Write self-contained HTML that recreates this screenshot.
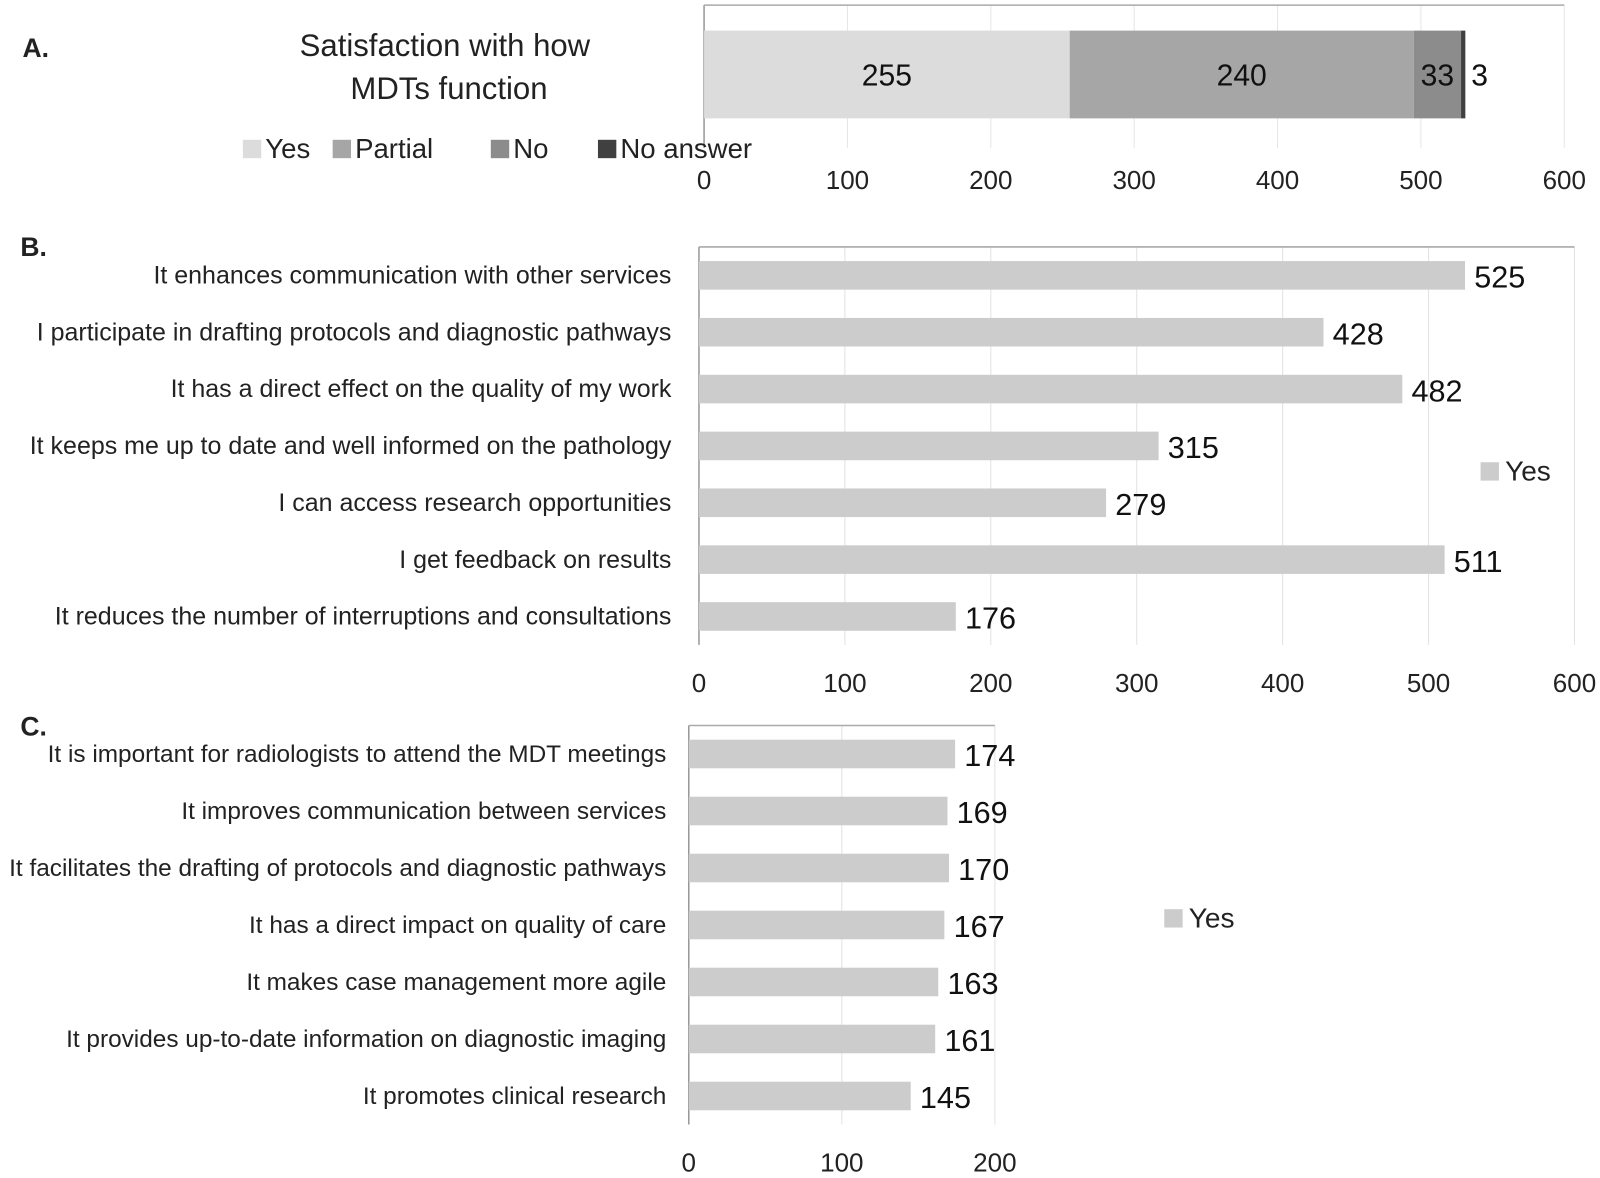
<!DOCTYPE html>
<html><head><meta charset="utf-8">
<style>
html,body{margin:0;padding:0;background:#fff;}
svg{display:block;font-family:"Liberation Sans",Arial,sans-serif;}
</style></head>
<body>
<svg id="c" width="1600" height="1178" viewBox="0 0 1600 1178" xmlns="http://www.w3.org/2000/svg">
<g transform="scale(1.0204)">
<text x="22" y="56" font-size="26" font-weight="bold" fill="#222">A.</text>
<text x="436" y="55" font-size="30.5" text-anchor="middle" fill="#222">Satisfaction with how</text>
<text x="440" y="97" font-size="30.5" text-anchor="middle" fill="#222">MDTs function</text>
<text x="20" y="251" font-size="26" font-weight="bold" fill="#222">B.</text>
<text x="20" y="721" font-size="26" font-weight="bold" fill="#222">C.</text>
<g id="ga"></g><g id="gb"></g><g id="gc"></g>
</g>
</svg>
<script>
// Panel A data
const aSeries = ["Yes","Partial","No","No answer"];
const aValues = [255,240,33,3];
const aColors = ["#dcdcdc","#a6a6a6","#8c8c8c","#404040"];
const aTicks = [0,100,200,300,400,500,600];
// Panel B data
const bCategories = ["It enhances communication with other services","I participate in drafting protocols and diagnostic pathways","It has a direct effect on the quality of my work","It keeps me up to date and well informed on the pathology","I can access research opportunities","I get feedback on results","It reduces the number of interruptions and consultations"];
const bValues = [525,428,482,315,279,511,176];
const bTicks = [0,100,200,300,400,500,600];
// Panel C data
const cCategories = ["It is important for radiologists to attend the MDT meetings","It improves communication between services","It facilitates the drafting of protocols and diagnostic pathways","It has a direct impact on quality of care","It makes case management more agile","It provides up-to-date information on diagnostic imaging","It promotes clinical research"];
const cValues = [174,169,170,167,163,161,145];
const cTicks = [0,100,200];

const NS="http://www.w3.org/2000/svg";
function mk(parent,tag,attrs,text){const e=document.createElementNS(NS,tag);for(const k in attrs)e.setAttribute(k,attrs[k]);if(text!==undefined)e.textContent=text;parent.appendChild(e);return e;}

// Panel A
(function(){
  const g=document.getElementById('ga');
  const x0=690,x1=1533,max=600,top=5,bot=145;
  const sx=v=>x0+(x1-x0)*v/max;
  aTicks.forEach(t=>{
    const l=mk(g,'line',{x1:sx(t),x2:sx(t),y1:top,y2:bot,stroke:t===0?'#999':'#e6e6e6','stroke-width':t===0?1.5:1});
    
    
    const tx=mk(g,'text',{x:sx(t),y:185,'font-size':25.5,'text-anchor':'middle',fill:'#222'},String(t));
    
    
  });
  const fl=mk(g,'line',{x1:x0,x2:x1,y1:top,y2:top,stroke:'#aaa','stroke-width':1.5});
  
  
  let acc=0;
  aValues.forEach((v,i)=>{
    const r=mk(g,'rect',{x:sx(acc),y:30,width:sx(acc+v)-sx(acc),height:86,fill:aColors[i]});
    
    
    const cx=(v<10)?sx(acc+v)+14:(sx(acc)+sx(acc+v))/2;
    const t=mk(g,'text',{x:cx,y:84,'font-size':29.5,'text-anchor':'middle',fill:'#111'},String(v));
    
    
    acc+=v;
  });
  const legX=[238,326,481,586];
  aSeries.forEach((s,i)=>{
    const r=mk(g,'rect',{x:legX[i],y:137,width:18,height:18,fill:aColors[i]});
    
    
    const t=mk(g,'text',{x:legX[i]+22,y:155,'font-size':27,fill:'#222'},s);
    
    
  });
})();

function hbar(gid,cats,vals,ticks,o){
  const g=document.getElementById(gid);
  const sx=v=>o.x0+(o.x1-o.x0)*v/o.max;
  const step=(o.bot-o.top)/cats.length;
  ticks.forEach(t=>{
    const l=mk(g,'line',{x1:sx(t),x2:sx(t),y1:o.top,y2:o.bot,stroke:t===0?'#999':'#e2e2e2','stroke-width':t===0?1.5:1});
    
    
    const tx=mk(g,'text',{x:sx(t),y:o.tickY,'font-size':25.5,'text-anchor':'middle',fill:'#222'},String(t));
    
    
  });
  const fl=mk(g,'line',{x1:o.x0,x2:o.x1,y1:o.top,y2:o.top,stroke:'#aaa','stroke-width':1.5});
  
  
  cats.forEach((c,i)=>{
    const cy=o.top+step*(i+0.5);
    const r=mk(g,'rect',{x:sx(0),y:cy-14,width:sx(vals[i])-sx(0),height:28,fill:'#cccccc'});
    
    
    const v=mk(g,'text',{x:sx(vals[i])+9,y:cy+12,'font-size':30,fill:'#111'},String(vals[i]));
    
    
    const t=mk(g,'text',{x:o.labelX,y:cy+8,'font-size':o.fs,'text-anchor':'end',fill:'#222'},c);
    
    
  });
  const ls=mk(g,'rect',{x:o.legX,y:o.legY-9,width:18,height:18,fill:'#cccccc'});
  
  
  const lt=mk(g,'text',{x:o.legX+24,y:o.legY+9,'font-size':27.5,fill:'#222'},'Yes');
  
  
}
hbar('gb',bCategories,bValues,bTicks,{p:'panel-b',x0:685,x1:1543,max:600,top:242,bot:632,tickY:678,labelX:658,legX:1451,legY:462,fs:24.5});
hbar('gc',cCategories,cValues,cTicks,{p:'panel-c',x0:675,x1:975,max:200,top:711,bot:1102,tickY:1148,labelX:653,legX:1141,legY:900,fs:23.9});
</script>
</body></html>
